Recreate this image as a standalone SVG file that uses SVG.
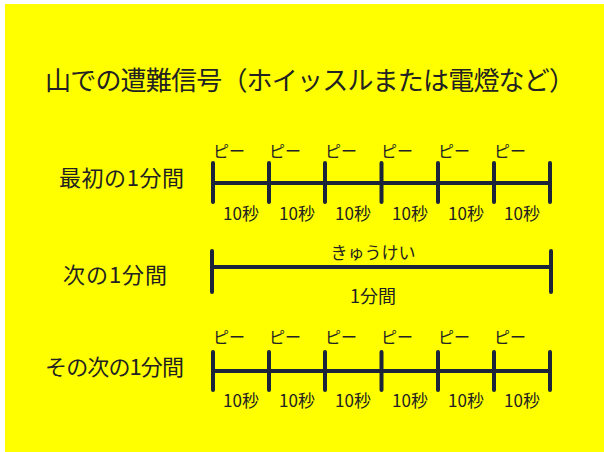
<svg xmlns="http://www.w3.org/2000/svg" width="604" height="452" viewBox="0 0 604 452">
<style>
text{font-family:"Noto Sans CJK JP","Noto Sans",sans-serif;fill:#222;}
.title{font-size:26px;}
.lbl{font-size:22px;}
.pi{font-size:16px;}
.sec{font-size:17px;text-anchor:middle;}
.mid{text-anchor:middle;}
.ln{stroke:#1b2438;stroke-width:4;stroke-linecap:round;fill:none;}
</style>
<rect x="0" y="0" width="604" height="452" fill="#ffffff"/>
<rect x="5" y="4" width="599" height="448" fill="#ffff00"/>
<g id="title"><text class="title mid" x="310" y="90" textLength="530">山での遭難信号（ホイッスルまたは電燈など）</text></g>

<g id="row1-label"><text class="lbl" x="59" y="186" textLength="125">最初の1分間</text></g>
<g id="row2-label"><text class="lbl" x="63" y="283" textLength="104">次の1分間</text></g>
<g id="row3-label"><text class="lbl" x="45" y="375" textLength="139">その次の1分間</text></g>

<g id="connectors">
<path class="ln" d="M213 183H550M213 163V202M269 163V202M325 163V202M381.5 163V202M438 163V202M494 163V202M550 163V202"/>
<path class="ln" d="M212 267H551M212 251V292M551 251V292"/>
<path class="ln" d="M213 371H550M213 352V390M269 352V390M325 352V390M381.5 352V390M438 352V390M494 352V390M550 352V390"/>
</g>

<g id="row1-timeline">
<text class="pi" x="213" y="157">ピー</text>
<text class="pi" x="269" y="157">ピー</text>
<text class="pi" x="325" y="157">ピー</text>
<text class="pi" x="381" y="157">ピー</text>
<text class="pi" x="438" y="157">ピー</text>
<text class="pi" x="494" y="157">ピー</text>
<text class="sec" x="241" y="220">10秒</text>
<text class="sec" x="297" y="220">10秒</text>
<text class="sec" x="353" y="220">10秒</text>
<text class="sec" x="410" y="220">10秒</text>
<text class="sec" x="466" y="220">10秒</text>
<text class="sec" x="522" y="220">10秒</text>
</g>

<g id="row2-timeline">
<text class="mid" style="font-size:17px" x="373" y="259">きゅうけい</text>
<text class="mid" style="font-size:18px" x="373" y="303">1分間</text>
</g>

<g id="row3-timeline">
<text class="pi" x="213" y="343">ピー</text>
<text class="pi" x="269" y="343">ピー</text>
<text class="pi" x="325" y="343">ピー</text>
<text class="pi" x="381" y="343">ピー</text>
<text class="pi" x="438" y="343">ピー</text>
<text class="pi" x="494" y="343">ピー</text>
<text class="sec" x="241" y="407">10秒</text>
<text class="sec" x="297" y="407">10秒</text>
<text class="sec" x="353" y="407">10秒</text>
<text class="sec" x="410" y="407">10秒</text>
<text class="sec" x="466" y="407">10秒</text>
<text class="sec" x="522" y="407">10秒</text>
</g>
</svg>
